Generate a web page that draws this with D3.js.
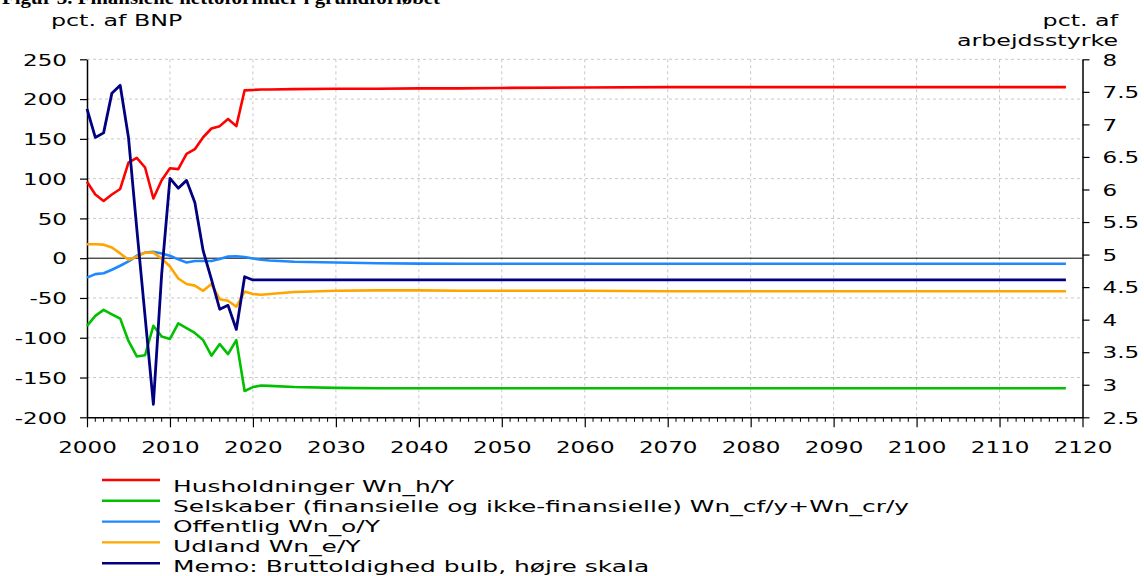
<!DOCTYPE html>
<html>
<head>
<meta charset="utf-8">
<script src="https://cdn.jsdelivr.net/npm/d3@7"></script>
<style>
  html, body { margin: 0; padding: 0; background: #fff; }
  svg { display: block; }
  text { font-family: "DejaVu Sans", Verdana, sans-serif; fill: #000; }
</style>
</head>
<body>
<svg id="chart" width="1144" height="576"></svg>
<script>
// ---------- data ----------
const years = [2000,2001,2002,2003,2004,2005,2006,2007,2008,2009,2010,2011,2012,2013,2014,2015,2016,2017,2018,2019,2020,2021,2022,
               2025,2030,2035,2040,2045,2050,2060,2070,2080,2090,2100,2110,2118];

const husholdninger = [96, 80, 72, 80, 87, 120, 126, 114, 75, 98, 113, 112, 131, 137, 152, 163, 166, 175, 166, 211, 211.5, 212, 212,
                       212.5, 213, 213, 213.5, 213.5, 214, 214.5, 215, 215, 215, 215, 215, 215];
const selskaber = [-85, -72.5, -65, -70.5, -76, -104, -123.5, -122, -85, -98.5, -101.5, -82, -88, -94, -103, -122.5, -108, -120.5, -103, -167, -162, -160, -160.5,
                   -162, -163, -163.5, -163.5, -163.5, -163.5, -163.5, -163.5, -163.5, -163.5, -163.5, -163.5, -163.5];
const offentlig = [-24.5, -20, -19, -14.5, -9.5, -4, 3, 7, 8, 6, 3, -1.5, -5.5, -3.5, -3.5, -3.5, -1, 2, 2.5, 1.5, -0.5, -2, -3,
                   -4.5, -5.5, -6.3, -6.8, -7, -7, -7, -7, -7, -7, -7, -7, -7];
const udland = [17.5, 17.5, 17, 13.5, 6, -2, 2, 7, 7, -0.5, -10.5, -25.5, -32.5, -34.5, -41, -32.5, -51.5, -53.5, -61, -42, -45, -46, -45,
                -42.5, -41, -40.5, -40.5, -41, -41, -41, -41.5, -41.5, -41.5, -41.5, -41.5, -41.5];
const memo = [7.24, 6.8, 6.87, 7.48, 7.6, 6.8, 5.4, 4.05, 2.7, 4.7, 6.17, 6.02, 6.14, 5.8, 5.06, 4.62, 4.16, 4.22, 3.85, 4.66, 4.61, 4.61, 4.61,
              4.61, 4.61, 4.61, 4.61, 4.61, 4.61, 4.61, 4.61, 4.61, 4.61, 4.61, 4.61, 4.61];

const xTicks = [2000,2010,2020,2030,2040,2050,2060,2070,2080,2090,2100,2110,2120];
const leftTicks = [250,200,150,100,50,0,-50,-100,-150,-200];
const leftTickLabels = ["250","200","150","100","50","0","-50","-100","-150","-200"];
const rightTicks = [8,7.5,7,6.5,6,5.5,5,4.5,4,3.5,3,2.5];
const rightTickLabels = ["8","7.5","7","6.5","6","5.5","5","4.5","4","3.5","3","2.5"];

const seriesNames = ["Husholdninger Wn_h/Y",
  "Selskaber (finansielle og ikke-finansielle) Wn_cf/y+Wn_cr/y",
  "Offentlig Wn_o/Y",
  "Udland Wn_e/Y",
  "Memo: Bruttoldighed bulb, højre skala"];
const seriesColors = ["#ff0000", "#00c000", "#1e88ff", "#ffa500", "#000080"];

// ---------- layout ----------
const SX = 1.44; // horizontal stretch of text seen in reference
const SXL = 1.51; // legend text stretch
const svg = d3.select("#chart");
const L = 87, R = 1082.5, T = 59.3, B = 417.3;

const x = d3.scaleLinear().domain([2000, 2120]).range([L, R]);
const yL = d3.scaleLinear().domain([-200, 250]).range([B, T]);
const yR = d3.scaleLinear().domain([2.5, 8]).range([B, T]);

// title (clipped at top, as in the reference)
svg.append("text")
  .attr("transform", `translate(2,4) scale(1.1,1)`)
  .style("font-family", "'Liberation Serif', serif")
  .style("font-weight", "bold")
  .style("font-size", "19px")
  .text("Figur 3. Finansielle nettoformuer i grundforløbet");

// axis titles
svg.append("text").attr("transform", `translate(51,26) scale(${SX},1)`)
  .style("font-size", "16.5px").text("pct. af BNP");
svg.append("text").attr("transform", `translate(1118,26) scale(${SX},1)`)
  .attr("text-anchor", "end").style("font-size", "16.5px").text("pct. af");
svg.append("text").attr("transform", `translate(1118,46) scale(${SX},1)`)
  .attr("text-anchor", "end").style("font-size", "16.5px").text("arbejdsstyrke");

// grid
const grid = svg.append("g").attr("stroke", "#c8c8c8").attr("stroke-width", 1).attr("stroke-dasharray", "3,3");
grid.selectAll("line.h").data(leftTicks.filter(d => d !== 0 && d !== -200)).enter().append("line")
  .attr("x1", L).attr("x2", R).attr("y1", d => yL(d)).attr("y2", d => yL(d));
grid.selectAll("line.v").data(xTicks.filter(d => d !== 2000 && d !== 2120)).enter().append("line")
  .attr("y1", T).attr("y2", B).attr("x1", d => x(d)).attr("x2", d => x(d));

// zero line
svg.append("line").attr("x1", L).attr("x2", R).attr("y1", yL(0)).attr("y2", yL(0))
  .attr("stroke", "#000").attr("stroke-width", 1);

// axes
const axL = svg.append("g").attr("transform", `translate(${L},0)`)
  .call(d3.axisLeft(yL).tickValues(leftTicks).tickFormat((d, i) => leftTickLabels[i]).tickSize(7).tickSizeOuter(0).tickPadding(0));
axL.selectAll("text").attr("x", -20 / SX).attr("dy", "0.36em").attr("transform", `scale(${SX},1)`).style("font-size", "16px");

const axR = svg.append("g").attr("transform", `translate(${R},0)`)
  .call(d3.axisRight(yR).tickValues(rightTicks).tickFormat((d, i) => rightTickLabels[i]).tickSize(7).tickSizeOuter(0).tickPadding(0));
axR.selectAll("text").attr("x", 20 / SX).attr("dy", "0.36em").attr("transform", `scale(${SX},1)`).style("font-size", "16px");

const axB = svg.append("g").attr("transform", `translate(0,${B})`)
  .call(d3.axisBottom(x).tickValues(xTicks).tickFormat(d3.format("d")).tickSize(10).tickSizeOuter(0).tickPadding(0));
axB.selectAll("text").attr("x", 0).attr("y", 30).attr("dy", "0.36em").attr("transform", `scale(${SX},1)`).style("font-size", "16px");
// minor year ticks
const minorYears = d3.range(2000, 2121).filter(d => d % 10 !== 0);
svg.append("g").selectAll("line").data(minorYears).enter().append("line")
  .attr("x1", d => x(d)).attr("x2", d => x(d)).attr("y1", B).attr("y2", B + 4.5)
  .attr("stroke", "#000").attr("stroke-width", 1);

[axL, axR, axB].forEach(a => { a.selectAll("path, line").attr("stroke", "#000").attr("stroke-width", 1.2); a.select(".domain").attr("stroke-width", 1.5); });

// series
const leftSeries = [husholdninger, selskaber, offentlig, udland];
leftSeries.forEach((vals, k) => {
  const line = d3.line().x((d, i) => x(years[i])).y(d => yL(d));
  svg.append("path").datum(vals).attr("d", line)
    .attr("fill", "none").attr("stroke", seriesColors[k]).attr("stroke-width", 2.6)
    .attr("stroke-linejoin", "round");
});
const memoLine = d3.line().x((d, i) => x(years[i])).y(d => yR(d));
svg.append("path").datum(memo).attr("d", memoLine)
  .attr("fill", "none").attr("stroke", seriesColors[4]).attr("stroke-width", 2.8)
  .attr("stroke-linejoin", "round");

// legend
const leg = svg.append("g");
seriesNames.forEach((name, i) => {
  const yy = 480 + i * 20.8;
  const ty = 492 + i * 19.9;
  leg.append("line").attr("x1", 102).attr("x2", 160).attr("y1", yy).attr("y2", yy)
    .attr("stroke", seriesColors[i]).attr("stroke-width", 2.4);
  leg.append("text").attr("transform", `translate(173,${ty}) scale(${SXL},1)`)
    .style("font-size", "16.5px").text(name);
});
</script>
</body>
</html>
